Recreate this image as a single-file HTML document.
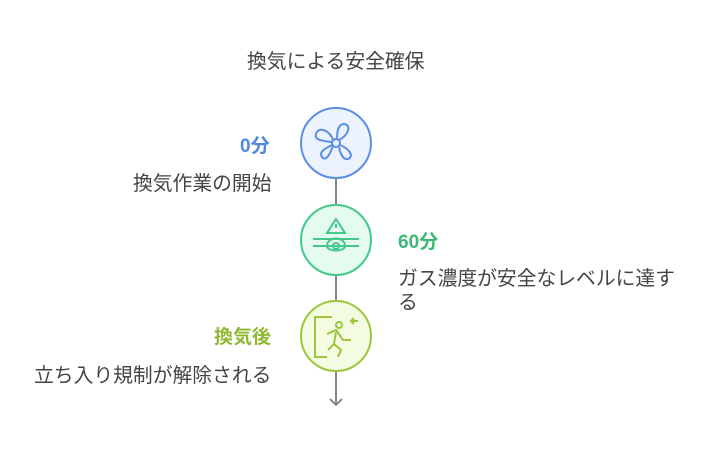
<html><head><style>
body{margin:0;width:708px;height:456px;background:#fff;font-family:"Liberation Sans","Noto Sans CJK JP",sans-serif;position:relative;overflow:hidden}
.t{position:absolute;white-space:nowrap;color:#444;font-size:19.8px;line-height:24px}
.b{font-weight:bold;font-size:19px}
</style></head><body>
<svg width="708" height="456" style="position:absolute;left:0;top:0">
<line x1="336" y1="179" x2="336" y2="405" stroke="#888" stroke-width="2"/>
<polyline points="330,399 336,405 342,399" fill="none" stroke="#888" stroke-width="2"/>
<circle cx="336" cy="143" r="35" fill="#ecf2fe" stroke="#5b8ee6" stroke-width="2"/>
<circle cx="336" cy="240" r="35" fill="#e6fbef" stroke="#43c88c" stroke-width="2"/>
<circle cx="336" cy="336" r="35" fill="#f3fbe1" stroke="#9cc63c" stroke-width="2"/>
<g fill="none" stroke="#5b8ee6" stroke-width="2">
<circle cx="336" cy="143" r="4"/>
<path d="M333,140 C330,130 318,126 316,134 C314,140 322,141 332,142"/>
<path d="M339,140 C348,136 352,125 344,124 C338,124 337,132 337,139"/>
<path d="M340,145 C348,148 355,156 348,159 C342,160 340,152 339,147"/>
<path d="M333,146 C330,154 326,162 322,157 C318,152 326,148 332,145"/>
</g>
<g fill="none" stroke="#43c88c" stroke-width="2">
<path d="M336,219 L345,233 L327,233 Z"/>
<line x1="336" y1="224" x2="336" y2="228"/>
<line x1="313" y1="239" x2="359" y2="239"/><line x1="313" y1="246" x2="359" y2="246"/>
<circle cx="336" cy="246" r="3"/>
<path d="M327,246 C327,236 345,236 345,246 C345,252 327,252 327,246"/>
</g>
<g fill="none" stroke="#9cc63c" stroke-width="2">
<path d="M332,317 L315,317 L315,357 L327,357"/>
<circle cx="339" cy="325" r="3"/>
<path d="M327,334 L336,330 L343,340 L351,340 M336,332 L334,344 L341,350 L338,357 M334,344 L328,350"/>
<path d="M358,321 L351,321 M354,318 L351,321 L354,324"/>
</g>
</svg>
<div class="t" style="left:247px;top:50px">換気による安全確保</div>
<div class="t b" style="left:240px;top:135px;color:#4f86e0">0分</div>
<div class="t" style="left:133px;top:172px">換気作業の開始</div>
<div class="t b" style="left:398px;top:231px;color:#3cb878">60分</div>
<div class="t" style="left:398px;top:267px">ガス濃度が安全なレベルに達す</div>
<div class="t" style="left:398px;top:291px">る</div>
<div class="t b" style="left:214px;top:326px;color:#8fb832">換気後</div>
<div class="t" style="left:34px;top:364px">立ち入り規制が解除される</div>
</body></html>
